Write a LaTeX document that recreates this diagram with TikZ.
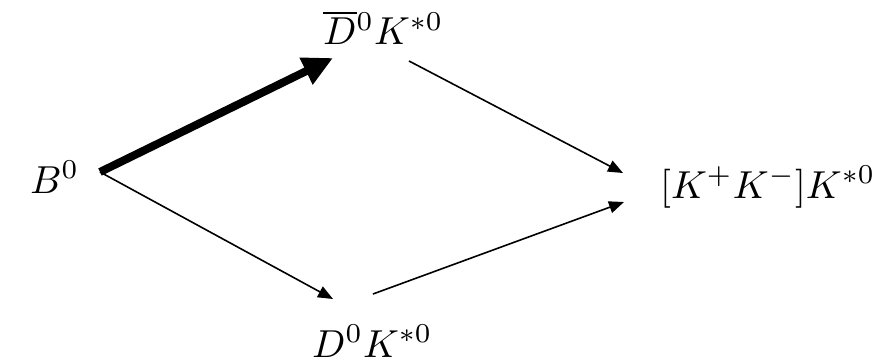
\documentclass[tikz,border=0pt]{standalone}
\usetikzlibrary{arrows.meta,calc}
\tikzset{
  lbl/.style={anchor=base west,inner sep=0pt},
  thin arrow/.style={line width=1.6pt,-{Triangle[length=15pt,width=12pt]}},
  big arrow/.style={line width=8pt,-{Triangle[length=30pt,width=28pt]}}
}
\newcommand{\bigtxt}[1]{\scalebox{3.9}{#1}}
\begin{document}
\begin{tikzpicture}[x=1pt,y=-1pt]
\useasboundingbox (0,0) rectangle (895,364);
\node[lbl] (B) at (30,193) {\bigtxt{$B^0$}};
\node[lbl] (Db) at (323,45) {\bigtxt{$\overline{D}{}^0K^{*0}$}};
\node[lbl] (D) at (312,357) {\bigtxt{$D^0K^{*0}$}};
\node[lbl] (KK) at (660,198) {\bigtxt{$[K^+K^-]K^{*0}$}};
\draw[big arrow] ($(B.base west)+(70,-21)$) -- ($(Db.base west)+(10,13)$);
\draw[thin arrow] ($(B.base west)+(70,-21)$) -- ($(D.base west)+(21,-58)$);
\draw[thin arrow] ($(Db.base west)+(86,16)$) -- ($(KK.base west)+(-37,-25)$);
\draw[thin arrow] ($(D.base west)+(61,-63)$) -- ($(KK.base west)+(-36,4)$);
\end{tikzpicture}
\end{document}
